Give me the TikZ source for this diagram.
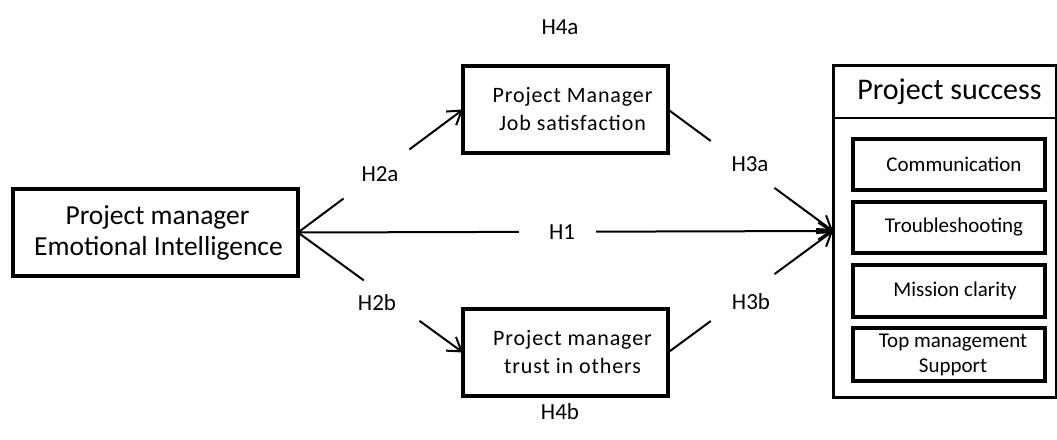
\documentclass[tikz,border=0pt]{standalone}
\usepackage{fontspec}
\setmainfont{Carlito}
\newfontfamily\spacedfont[LetterSpace=4]{Carlito}
\usetikzlibrary{arrows.meta}
\newcommand\indentline{\hspace*{14pt}}
\begin{document}
\begin{tikzpicture}[x=1pt,y=-1pt,
  box/.style={draw,line width=3.5pt,inner sep=0pt,outer sep=0pt,align=center},
  subbox/.style={box,minimum width=192pt,font=\fontsize{21}{24}\selectfont},
  midbox/.style={box,minimum width=205pt,minimum height=87pt,
    font={\spacedfont\fontsize{22}{28}\selectfont}},
  conn/.style={line width=2pt},
  arr/.style={conn,-{Straight Barb[length=13pt,width=17pt]}},
  hyp/.style={font=\fontsize{23}{27}\selectfont,inner sep=0pt}]
\useasboundingbox (0,0) rectangle (1057,439);

% predictor
\node[box,minimum width=285pt,minimum height=87pt,
  font=\fontsize{27.5}{31}\selectfont] (L) at (155.5,232.5)
  {\hspace*{4pt}Project manager\\\hspace*{6pt}Emotional Intelligence};

% mediators
\node[midbox] (T) at (565.5,109.5)
  {\indentline Project Manager\\\indentline Job satisfaction};
\node[midbox] (B) at (565.5,352.5)
  {\indentline Project manager\\\indentline trust in others};

% outcome with its dimensions
\node[draw,line width=3pt,inner sep=0pt,outer sep=0pt,
  minimum width=223pt,minimum height=332pt] (S) at (944.5,231) {};
\node[draw,line width=2.5pt,inner sep=0pt,outer sep=0pt,
  minimum width=223pt,minimum height=53pt,
  font=\fontsize{30}{34}\selectfont] (head) at (944.5,91.5)
  {\hspace*{10pt}Project success};
\node[subbox,minimum height=51pt] (d1) at (949,164.5) {\hspace*{10pt}Communication};
\node[subbox,minimum height=51pt] (d2) at (949,227.5) {\hspace*{10pt}Troubleshooting};
\node[subbox,minimum height=52pt] (d3) at (949,291) {\hspace*{12pt}Mission clarity};
\node[subbox,minimum height=53pt,font=\fontsize{21}{25}\selectfont] (d4) at (949,354.5)
  {\hspace*{8pt}Top management\\\hspace*{8pt}Support};

% hypothesis labels
\node[hyp] (h4a) at (560,27) {H4a};
\node[hyp] (h4b) at (560,412) {H4b};
\node[hyp] (h1) at (562,232) {H1};
\node[hyp] (h2a) at (380,174) {H2a};
\node[hyp] (h2b) at (377,303) {H2b};
\node[hyp] (h3a) at (750,164) {H3a};
\node[hyp] (h3b) at (751,302) {H3b};

% gaps left in each path for its label
\path (L.east) -- (T.west) coordinate[pos=0.276] (a1) coordinate[pos=0.675] (a2);
\path (L.east) -- (B.west) coordinate[pos=0.399] (b1) coordinate[pos=0.736] (b2);
\path (L.east) -- (S.west) coordinate[pos=0.413] (c1) coordinate[pos=0.557] (c2);
\path (T.east) -- (S.west) coordinate[pos=0.259] (e1) coordinate[pos=0.645] (e2);
\path (B.east) -- (S.west) coordinate[pos=0.259] (f1) coordinate[pos=0.645] (f2);

% paths
\draw[conn] (L.east) -- (a1);  \draw[arr] (a2) -- (T.west);
\draw[conn] (L.east) -- (b1);  \draw[arr] (b2) -- (B.west);
\draw[conn] (L.east) -- (c1);  \draw[arr] (c2) -- (S.west);
\draw[conn] (T.east) -- (e1);  \draw[arr] (e2) -- (S.west);
\draw[conn] (B.east) -- (f1);  \draw[arr] (f2) -- (S.west);
\end{tikzpicture}
\end{document}
